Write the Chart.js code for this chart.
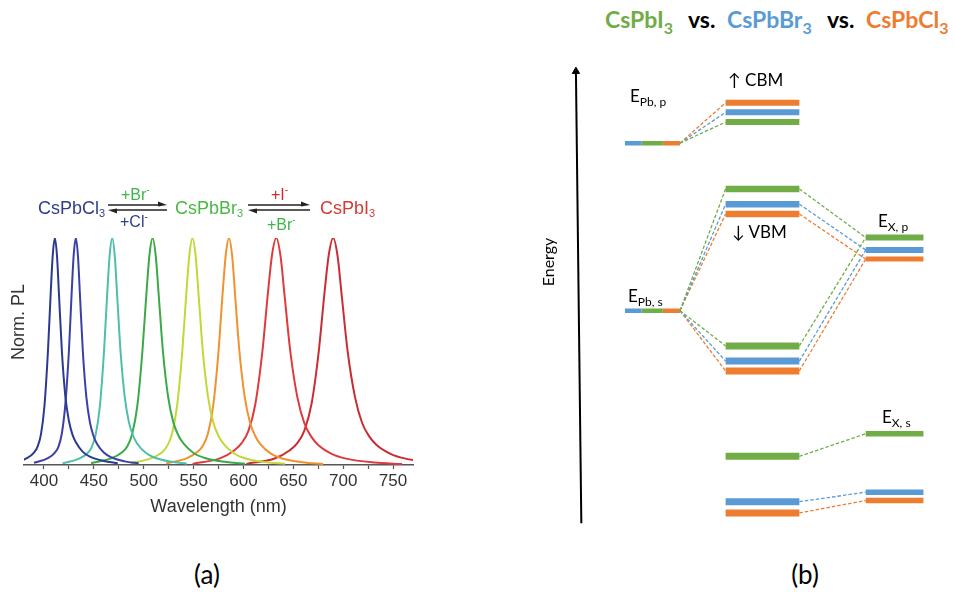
<!DOCTYPE html>
<html>
<head>
<meta charset="utf-8">
<script src="https://cdn.jsdelivr.net/npm/chart.js@4.4.1/dist/chart.umd.min.js"></script>
<style>
  html, body { margin: 0; padding: 0; background: #fff; }
  body { position: relative; width: 954px; height: 592px; overflow: hidden; }
  .abs { position: absolute; white-space: nowrap; line-height: 1; }
  .pa { font-family: "Liberation Sans", Arial, sans-serif; }
  .pb { font-family: Lato, "Open Sans", sans-serif; color: #000; }
  #panelA { position: absolute; left: 0; top: 0; width: 440px; height: 540px; filter: blur(0.45px); }
  #wrapA { position: absolute; left: 0; top: 180px; width: 440px; height: 350px; }
  #wrapB { position: absolute; left: 530px; top: 40px; width: 424px; height: 510px; }
  .sub { position: relative; }
</style>
</head>
<body>

<!-- panel (a): PL spectra of the halide-exchanged nanocrystals -->
<div id="panelA">
  <div id="wrapA"><canvas id="plChart" width="440" height="350"></canvas></div>

  <div class="abs pa" style="left:38px;top:199px;font-size:18px;color:#2f3d8c;">CsPbCl<span class="sub" style="font-size:11px;top:3px;">3</span></div>
  <div class="abs pa" style="left:121px;top:187px;font-size:16px;color:#3db54a;">+Br<span class="sub" style="font-size:10px;top:-7px;">-</span></div>
  <div class="abs pa" style="left:120px;top:214px;font-size:16px;color:#2f3d8c;">+Cl<span class="sub" style="font-size:10px;top:-7px;">-</span></div>
  <div class="abs pa" style="left:175px;top:199px;font-size:18px;color:#4cb748;">CsPbBr<span class="sub" style="font-size:11px;top:3px;">3</span></div>
  <div class="abs pa" style="left:271px;top:187px;font-size:16px;color:#d7262e;">+I<span class="sub" style="font-size:10px;top:-7px;">-</span></div>
  <div class="abs pa" style="left:267px;top:217px;font-size:16px;color:#3db54a;">+Br<span class="sub" style="font-size:10px;top:-7px;">-</span></div>
  <div class="abs pa" style="left:320px;top:199px;font-size:18px;color:#d43a36;">CsPbI<span class="sub" style="font-size:11px;top:3px;">3</span></div>

  <div class="abs pa" style="left:18px;top:322px;font-size:18px;color:#333;transform:translate(-50%,-50%) rotate(-90deg);">Norm. PL</div>
</div>

<div class="abs pb" style="left:207px;top:574px;font-size:26px;transform:translate(-50%,-50%);">(a)</div>

<!-- panel (b): energy level diagram -->
<div id="wrapB"><canvas id="levelChart" width="424" height="510"></canvas></div>

<div class="abs pb" style="left:605px;top:8px;font-size:23px;font-weight:bold;color:#70ad47;">CsPbI<span class="sub" style="font-size:16px;top:6px;">3</span></div>
<div class="abs pb" style="left:688px;top:8px;font-size:23px;font-weight:bold;">vs.</div>
<div class="abs pb" style="left:727px;top:8px;font-size:23px;font-weight:bold;color:#5b9bd5;">CsPbBr<span class="sub" style="font-size:16px;top:6px;">3</span></div>
<div class="abs pb" style="left:827px;top:8px;font-size:23px;font-weight:bold;">vs.</div>
<div class="abs pb" style="left:866px;top:8px;font-size:23px;font-weight:bold;color:#ed7d31;">CsPbCl<span class="sub" style="font-size:16px;top:6px;">3</span></div>

<div class="abs pb" style="left:548px;top:262px;font-size:16px;transform:translate(-50%,-50%) rotate(-90deg);">Energy</div>

<div class="abs pb" style="left:630px;top:87px;font-size:17px;">E<span class="sub" style="font-size:12px;top:4px;">Pb, p</span></div>
<div class="abs pb" style="left:728px;top:71px;font-size:17px;">↑ CBM</div>
<div class="abs pb" style="left:732px;top:223px;font-size:17px;">↓ VBM</div>
<div class="abs pb" style="left:878px;top:212px;font-size:17px;">E<span class="sub" style="font-size:12px;top:4px;">X, p</span></div>
<div class="abs pb" style="left:628px;top:287px;font-size:17px;">E<span class="sub" style="font-size:12px;top:4px;">Pb, s</span></div>
<div class="abs pb" style="left:882px;top:408px;font-size:17px;">E<span class="sub" style="font-size:12px;top:4px;">X, s</span></div>

<div class="abs pb" style="left:805px;top:574px;font-size:26px;transform:translate(-50%,-50%);">(b)</div>

<script>
// ---------- (a) normalised PL spectra, CsPbCl3 -> CsPbBr3 -> CsPbI3 ----------
const wl1 = [369, 383, 390, 393.5, 397, 400.5, 404, 406.8, 408.9, 411, 413.1, 415.2, 418, 421.5, 425, 428.5, 432, 439, 446, 460, 474];
const pl1 = [0.01, 0.03, 0.055, 0.08, 0.135, 0.26, 0.5, 0.76, 0.93, 1, 0.92, 0.74, 0.5, 0.3, 0.195, 0.135, 0.1, 0.058, 0.037, 0.018, 0.008];

const wl2 = [390, 404, 411, 414.5, 418, 421.5, 425, 427.8, 429.9, 432, 434.1, 436.2, 439, 442.5, 446, 449.5, 453, 460, 467, 481, 495];
const pl2 = [0.01, 0.03, 0.055, 0.08, 0.14, 0.27, 0.5, 0.76, 0.93, 1, 0.92, 0.74, 0.5, 0.3, 0.19, 0.13, 0.095, 0.055, 0.035, 0.016, 0.007];

const wl3 = [418.7, 435.3, 443.6, 447.8, 451.9, 456.1, 460.2, 463.5, 466, 468.5, 471, 473.5, 476.8, 481, 485.1, 489.3, 493.4, 501.7, 510, 526.6, 543.2];
const pl3 = [0.008, 0.028, 0.052, 0.078, 0.135, 0.26, 0.5, 0.76, 0.93, 1, 0.92, 0.74, 0.5, 0.3, 0.19, 0.13, 0.095, 0.055, 0.034, 0.015, 0.006];

const wl4 = [447.2, 467.8, 478.1, 483.3, 488.4, 493.6, 498.7, 502.8, 505.9, 509, 512.1, 515.2, 519.3, 524.5, 529.6, 534.8, 539.9, 550.2, 560.5, 581.1, 601.7];
const pl4 = [0.008, 0.03, 0.055, 0.08, 0.135, 0.26, 0.5, 0.76, 0.93, 1, 0.92, 0.74, 0.5, 0.3, 0.19, 0.13, 0.095, 0.052, 0.032, 0.014, 0.005];

const wl5 = [487.2, 507.8, 518.1, 523.3, 528.4, 533.6, 538.7, 542.8, 545.9, 549, 552.1, 555.2, 559.3, 564.5, 569.6, 574.8, 579.9, 590.2, 600.5, 621.1, 641.7];
const pl5 = [0.008, 0.03, 0.055, 0.082, 0.138, 0.265, 0.5, 0.76, 0.93, 1, 0.92, 0.74, 0.5, 0.3, 0.19, 0.13, 0.094, 0.052, 0.031, 0.013, 0.005];

const wl6 = [522.5, 543.5, 554, 559.3, 564.5, 569.8, 575, 579.2, 582.4, 585.5, 588.7, 591.8, 596, 601.3, 606.5, 611.8, 617, 627.5, 638, 659, 680];
const pl6 = [0.007, 0.03, 0.058, 0.085, 0.14, 0.265, 0.5, 0.76, 0.93, 1, 0.92, 0.74, 0.5, 0.3, 0.188, 0.128, 0.092, 0.05, 0.03, 0.012, 0.004];

const wl7 = [549, 577, 591, 598, 605, 612, 619, 624.6, 628.8, 633, 637.2, 641.4, 647, 654, 661, 668, 675, 689, 703, 731, 759];
const pl7 = [0.005, 0.03, 0.065, 0.095, 0.15, 0.27, 0.5, 0.76, 0.93, 1, 0.92, 0.74, 0.5, 0.3, 0.185, 0.125, 0.088, 0.048, 0.028, 0.011, 0.004];

const wl8 = [603, 632, 646.5, 653.8, 661, 668.3, 675.5, 681.3, 685.7, 690, 694.4, 698.7, 704.5, 711.8, 719, 726.3, 733.5, 748, 762.5, 791.5, 820.5];
const pl8 = [0.005, 0.03, 0.065, 0.095, 0.15, 0.27, 0.5, 0.76, 0.93, 1, 0.92, 0.74, 0.5, 0.3, 0.185, 0.125, 0.088, 0.048, 0.028, 0.011, 0.004];

const spectrumColors = ['#2b3a8e', '#3b40a6', '#4fbfaa', '#3aa948', '#c3d838', '#f0922e', '#df3a3c', '#c92d33'];
const spectra = [[wl1, pl1], [wl2, pl2], [wl3, pl3], [wl4, pl4], [wl5, pl5], [wl6, pl6], [wl7, pl7], [wl8, pl8]];

const wavelengthTicks = [400, 450, 500, 550, 600, 650, 700, 750];

// ---------- (b) energy levels (arbitrary units), order: CsPbI3, CsPbBr3, CsPbCl3 ----------
const compounds = ['CsPbI3', 'CsPbBr3', 'CsPbCl3'];
const levelColors = ['#70ad47', '#5b9bd5', '#ed7d31'];
const ePbP   = [4.00, 4.00, 4.00];
const cbm    = [4.215, 4.315, 4.413];
const vbm    = [3.533, 3.377, 3.277];
const eXp    = [3.037, 2.910, 2.817];
const ePbS   = [2.29, 2.29, 2.29];
const bondP  = [1.930, 1.775, 1.675];
const bondS  = [0.803, 0.340, 0.225];
const eXs    = [1.033, 0.437, 0.352];

// ---------- chart (a) ----------
const fontA = 'Liberation Sans, Arial, sans-serif';

const arrowsPlugin = {
  id: 'exchangeArrows',
  afterDraw(chart) {
    const ctx = chart.ctx;
    ctx.save();
    ctx.strokeStyle = '#222';
    ctx.fillStyle = '#222';
    ctx.lineWidth = 1.4;
    const pair = (x0, x1, yTop, yBot) => {
      ctx.beginPath(); ctx.moveTo(x0, yTop); ctx.lineTo(x1 - 6, yTop); ctx.stroke();
      ctx.beginPath(); ctx.moveTo(x1, yTop); ctx.lineTo(x1 - 9, yTop - 3.5); ctx.lineTo(x1 - 9, yTop + 1.5); ctx.closePath(); ctx.fill();
      ctx.beginPath(); ctx.moveTo(x0 + 6, yBot); ctx.lineTo(x1, yBot); ctx.stroke();
      ctx.beginPath(); ctx.moveTo(x0, yBot); ctx.lineTo(x0 + 9, yBot - 1.5); ctx.lineTo(x0 + 9, yBot + 3.5); ctx.closePath(); ctx.fill();
    };
    pair(108, 167, 25, 30);
    pair(248, 310, 25, 30);
    ctx.restore();
  }
};

new Chart(document.getElementById('plChart'), {
  type: 'line',
  data: {
    datasets: spectra.map(([wl, pl], i) => ({
      data: wl.map((x, k) => ({ x: x, y: pl[k] })),
      borderColor: spectrumColors[i],
      borderWidth: 2,
      pointRadius: 0,
      fill: false,
      cubicInterpolationMode: 'monotone'
    }))
  },
  options: {
    responsive: false,
    animation: false,
    layout: { padding: { top: 58, right: 27, left: 0, bottom: 0 } },
    plugins: { legend: { display: false }, tooltip: { enabled: false } },
    scales: {
      x: {
        type: 'linear', min: 380, max: 770,
        afterBuildTicks: s => {
          const t = [];
          for (const v of wavelengthTicks) { t.push({ value: v - 25 }); t.push({ value: v }); }
          t.push({ value: 775 });
          s.ticks = t.filter(o => o.value > 380 && o.value < 770);
        },
        ticks: {
          autoSkip: false, maxRotation: 0, padding: 2.5, color: '#333',
          font: { family: fontA, size: 17 },
          callback: v => wavelengthTicks.includes(v) ? String(v) : ''
        },
        grid: { drawOnChartArea: false, tickLength: 4, color: '#555', tickWidth: 1.2 },
        border: { color: '#555', width: 1.5 },
        title: { display: true, text: 'Wavelength (nm)', color: '#333', font: { family: fontA, size: 18 }, padding: { top: 12.5, bottom: 12.5 } },
        afterFit: s => { s.height = 65; }
      },
      y: {
        min: 0, max: 1,
        ticks: { display: false },
        grid: { display: false },
        border: { display: false },
        afterFit: s => { s.width = 24; }
      }
    }
  },
  plugins: [arrowsPlugin]
});

// ---------- chart (b) ----------
// horizontal column spans of the diagram (axis units)
const colPb  = [2.30, 3.71];
const pbSplit = [2.30, 2.73, 3.27, 3.71];   // blue | green | orange segments of the atomic Pb levels
const colMid = [4.88, 6.77];
const colX   = [8.47, 9.95];

const sets = [];
const bar = (x0, x1, e, color, w) => sets.push({
  data: [{ x: x0, y: e }, { x: x1, y: e }],
  borderColor: color, borderWidth: w, borderCapStyle: 'butt', pointRadius: 0, borderDash: []
});
const dash = (x0, e0, x1, e1, color) => sets.push({
  data: [{ x: x0, y: e0 }, { x: x1, y: e1 }],
  borderColor: color, borderWidth: 1.3, borderDash: [3.5, 2], pointRadius: 0
});

// dashed correlation lines
for (let i = 0; i < 3; i++) {
  const c = levelColors[i];
  dash(colPb[1], ePbP[i], colMid[0], cbm[i], c);
  dash(colPb[1], ePbS[i], colMid[0], vbm[i], c);
  dash(colPb[1], ePbS[i], colMid[0], bondP[i], c);
  dash(colMid[1], vbm[i], colX[0], eXp[i], c);
  dash(colMid[1], bondP[i], colX[0], eXp[i], c);
  dash(colMid[1], bondS[i], colX[0], eXs[i], c);
}

// atomic Pb levels drawn as three-colour bars (Br | I | Cl)
const segOrder = [1, 0, 2];
segOrder.forEach((idx, k) => {
  bar(pbSplit[k], pbSplit[k + 1], ePbP[idx], levelColors[idx], 4.5);
  bar(pbSplit[k], pbSplit[k + 1], ePbS[idx], levelColors[idx], 4.5);
});

for (let i = 0; i < 3; i++) {
  const c = levelColors[i];
  bar(colMid[0], colMid[1], cbm[i], c, 6);
  bar(colMid[0], colMid[1], vbm[i], c, 6.5);
  bar(colMid[0], colMid[1], bondP[i], c, 7);
  bar(colMid[0], colMid[1], bondS[i], c, 7);
  bar(colX[0], colX[1], eXp[i], c, i === 2 ? 5 : 6);
  bar(colX[0], colX[1], eXs[i], c, 5.5);
}

// energy axis with arrow head
sets.push({
  data: [{ x: 1.1825, y: 0.12 }, { x: 1.0437, y: 4.733 }],
  borderColor: '#000', borderWidth: 2, borderDash: [],
  pointRadius: [0, 4.2], pointStyle: 'triangle',
  pointBackgroundColor: '#000', pointBorderColor: '#000', pointBorderWidth: 1
});

new Chart(document.getElementById('levelChart'), {
  type: 'line',
  data: { datasets: sets },
  options: {
    responsive: false,
    animation: false,
    layout: { padding: 0 },
    plugins: { legend: { display: false }, tooltip: { enabled: false } },
    elements: { line: { tension: 0 } },
    scales: {
      x: { type: 'linear', min: 0, max: 10.6, display: false },
      y: { type: 'linear', min: -0.1, max: 5.0, display: false }
    }
  }
});
</script>
</body>
</html>
